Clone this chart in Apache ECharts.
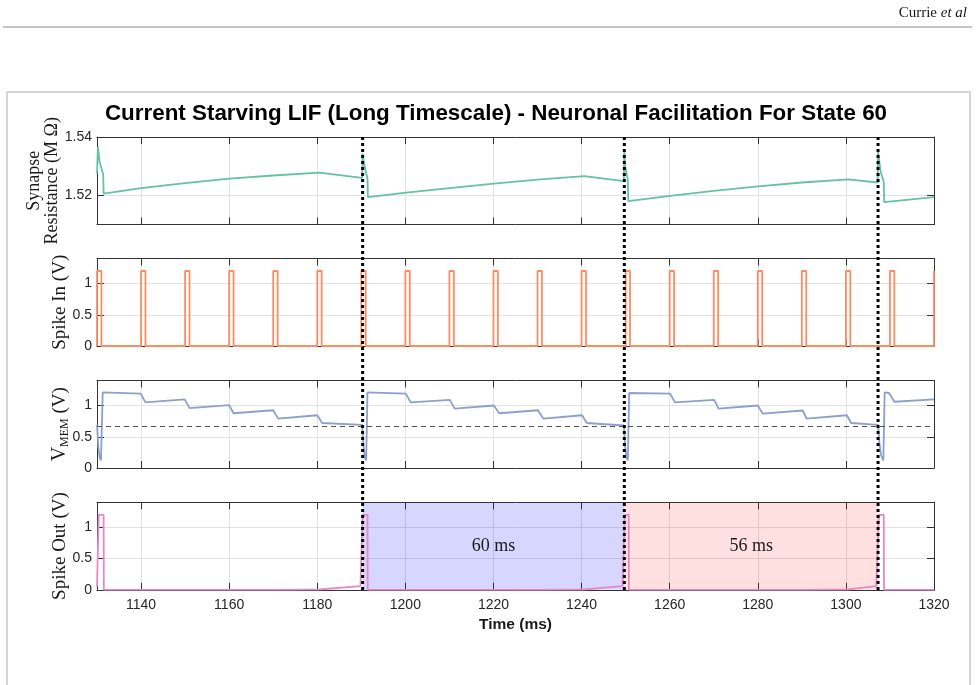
<!DOCTYPE html>
<html>
<head>
<meta charset="utf-8">
<script src="https://cdn.jsdelivr.net/npm/echarts@6/dist/echarts.min.js"></script>
<style>
  html, body { margin: 0; padding: 0; background: #fff; }
  #chart { width: 977px; height: 685px; }
</style>
</head>
<body>
<div id="chart"></div>
<script>
// time axis (ms)
const timeMin = 1130
const timeMax = 1320
const timeTicks = [1140, 1160, 1180, 1200, 1220, 1240, 1260, 1280, 1300, 1320]

// synapse resistance (M ohm) vs time
const resistance = [
  [1130.0, 1.5274], [1130.2, 1.5366], [1130.6, 1.5314], [1131.4, 1.5272], [1131.5, 1.5206],
  [1140, 1.5225], [1150, 1.5242], [1160, 1.5257], [1170, 1.5268], [1180.4, 1.5278],
  [1190.2, 1.5260], [1190.3, 1.5343], [1190.6, 1.5309], [1191.4, 1.5257], [1191.5, 1.5194],
  [1200.2, 1.5209], [1210, 1.5225], [1220.1, 1.5240], [1230, 1.5254], [1240.6, 1.5266],
  [1249.6, 1.5249], [1249.7, 1.5349], [1249.9, 1.5300], [1250.5, 1.5251], [1250.6, 1.5180],
  [1260.1, 1.5198], [1270, 1.5215], [1280.1, 1.5231], [1290, 1.5244], [1300.5, 1.5255],
  [1307.2, 1.5244], [1307.3, 1.5349], [1307.9, 1.5280], [1308.6, 1.5246], [1308.7, 1.5177],
  [1320, 1.5194]
]

// input spikes: start times of each pulse (ms), pulse width and height
const spikeInStarts = [1130, 1140, 1150, 1160, 1170, 1180, 1190, 1200, 1210, 1220,
  1230, 1240, 1250, 1260, 1270, 1280, 1290, 1300, 1310]
const spikeInWidth = 1
const spikeInLevel = 1.2

// membrane voltage (V)
const vMem = [
  [1130.0, 0.69], [1130.3, 0.34], [1130.6, 0.17], [1130.9, 0.12], [1131.3, 1.21],
  [1139.9, 1.19], [1141.0, 1.05], [1149.9, 1.097], [1151.0, 0.957], [1160.0, 1.005],
  [1161.0, 0.876], [1170.0, 0.924], [1171.1, 0.79], [1180.0, 0.844], [1181.1, 0.72],
  [1190.2, 0.69], [1190.5, 0.34], [1190.8, 0.17], [1191.1, 0.12], [1191.4, 1.21],
  [1200.1, 1.19], [1201.2, 1.05], [1210.1, 1.09], [1211.2, 0.95], [1220.1, 1.0],
  [1221.3, 0.876], [1230.1, 0.924], [1231.3, 0.79], [1240.1, 0.844], [1241.2, 0.72],
  [1249.6, 0.68], [1249.9, 0.34], [1250.2, 0.17], [1250.5, 0.12], [1250.8, 1.2],
  [1260.1, 1.19], [1261.2, 1.05], [1270.1, 1.09], [1271.1, 0.95], [1280.0, 1.0],
  [1281.1, 0.87], [1290.2, 0.92], [1291.1, 0.79], [1300.2, 0.844], [1301.2, 0.72],
  [1307.3, 0.69], [1307.6, 0.4], [1308.0, 0.2], [1308.5, 0.12], [1308.8, 1.21],
  [1309.8, 1.2], [1311.0, 1.06], [1320, 1.097]
]
const vThreshold = 0.67

// output spikes (V)
const spikeOut = [
  [1130.0, 0.05], [1130.3, 0.07], [1130.4, 1.2], [1131.5, 1.2], [1131.55, 0],
  [1171, 0], [1171.1, 0.003], [1180.4, 0.005], [1180.6, 0.03], [1189.8, 0.06], [1190.2, 0.08],
  [1190.3, 1.2], [1191.4, 1.2], [1191.45, 0],
  [1231, 0], [1231.1, 0.003], [1240.5, 0.005], [1240.7, 0.03], [1249.3, 0.06], [1249.7, 0.09],
  [1249.8, 1.2], [1250.7, 1.2], [1250.75, 0],
  [1291, 0], [1291.1, 0.003], [1300.4, 0.005], [1300.6, 0.03], [1306.9, 0.06], [1307.3, 0.08],
  [1307.5, 1.2], [1308.6, 1.2], [1308.65, 0],
  [1320, 0]
]

// inter-spike intervals
const dividerTimes = [1190.3, 1249.7, 1307.3]
const intervalLabels = ['60 ms', '56 ms']
const intervalColors = ['rgba(0, 0, 255, 0.16)', 'rgba(255, 0, 0, 0.12)']

const colors = ['#66c2a5', '#fc8d62', '#8da0cb', '#e78ac3']
const sans = 'Liberation Sans'
const serif = 'Liberation Serif'
const axisColor = '#333'

let chart = echarts.init(document.getElementById('chart'))

// pulse train for the input
let spikeIn = [[spikeInStarts[0], 0]]
spikeInStarts.forEach(function (s) {
  spikeIn.push([s, 0], [s, spikeInLevel], [s + spikeInWidth, spikeInLevel], [s + spikeInWidth, 0])
})
spikeIn.push([timeMax, 0], [timeMax, spikeInLevel])

let gridTops = [137, 258.5, 380.5, 502.3]
let grids = gridTops.map(function (t) {
  return {left: 97, right: 43, top: t, height: 87.5}
})
grids.push({left: 97, right: 43, top: 137, height: 453})

let xAxes = []
let yAxes = []
let yRanges = [[1.51, 1.54, [1.52, 1.54]], [0, 1.4, [0, 0.5, 1]], [0, 1.4, [0, 0.5, 1]], [0, 1.4, [0, 0.5, 1]]]
let yNames = [
  'Synapse\nResistance (M Ω)',
  'Spike In (V)',
  '{v|V}{s|MEM}{n| (V)}',
  'Spike Out (V)'
]
let yGaps = [36, 28, 28, 28]
let yNameSizes = [18, 19, 19, 19]

for (let i = 0; i < 4; i++) {
  let last = i === 3
  xAxes.push({
    gridIndex: i, type: 'value', min: timeMin, max: timeMax, position: 'bottom',
    axisLine: {show: true, onZero: false, lineStyle: {color: axisColor, width: 1}},
    axisTick: {show: true, inside: true, length: 7, customValues: timeTicks, lineStyle: {color: axisColor}},
    axisLabel: {
      show: last, customValues: timeTicks, margin: 8, fontFamily: sans, fontSize: 14, color: '#262626',
      formatter: function (v) { return String(v) }
    },
    splitLine: {show: true, lineStyle: {color: '#e2e2e2', width: 1}},
    name: last ? 'Time (ms)' : '', nameLocation: 'middle', nameGap: 27,
    nameTextStyle: {fontFamily: sans, fontWeight: 'bold', fontSize: 15.5, color: '#1a1a1a'}
  })
  xAxes.push({
    gridIndex: i, type: 'value', min: timeMin, max: timeMax, position: 'top',
    axisLine: {show: true, onZero: false, lineStyle: {color: axisColor, width: 1}},
    axisTick: {show: true, inside: true, length: 7, customValues: timeTicks, lineStyle: {color: axisColor}},
    axisLabel: {show: false},
    splitLine: {show: false}
  })
  let r = yRanges[i]
  let fs = yNameSizes[i]
  yAxes.push({
    gridIndex: i, type: 'value', min: r[0], max: r[1], position: 'left',
    axisLine: {show: true, onZero: false, lineStyle: {color: axisColor, width: 1}},
    axisTick: {show: true, inside: true, length: 7, customValues: r[2], lineStyle: {color: axisColor}},
    axisLabel: {
      customValues: r[2], margin: 5, fontFamily: sans, fontSize: 14, color: '#262626',
      formatter: i === 0 ? function (v) { return v.toFixed(2) } : function (v) { return String(v) }
    },
    splitLine: {show: true, lineStyle: {color: '#e2e2e2', width: 1}},
    name: yNames[i], nameLocation: 'middle', nameGap: yGaps[i], nameMoveOverlap: false,
    nameTextStyle: {
      fontFamily: serif, fontSize: fs, color: '#1a1a1a', lineHeight: 18,
      rich: {
        v: {fontFamily: serif, fontSize: fs + 1, color: '#1a1a1a'},
        s: {fontFamily: serif, fontSize: 12, color: '#1a1a1a', verticalAlign: 'bottom', padding: [0, 0, -2, 0]},
        n: {fontFamily: serif, fontSize: fs, color: '#1a1a1a'}
      }
    }
  })
  yAxes.push({
    gridIndex: i, type: 'value', min: r[0], max: r[1], position: 'right',
    axisLine: {show: true, onZero: false, lineStyle: {color: axisColor, width: 1}},
    axisTick: {show: true, inside: true, length: 7, customValues: r[2], lineStyle: {color: axisColor}},
    axisLabel: {show: false},
    splitLine: {show: false}
  })
}
// overlay for the dotted dividers
xAxes.push({gridIndex: 4, type: 'value', min: timeMin, max: timeMax, show: false})
yAxes.push({gridIndex: 4, type: 'value', min: 0, max: 1, show: false})

function lineSeries(idx, data, color) {
  return {
    type: 'line', xAxisIndex: idx * 2, yAxisIndex: idx * 2, data: data,
    symbol: 'none', showSymbol: false, silent: true, z: 3,
    lineStyle: {color: color, width: 1.8}
  }
}

let series = [
  lineSeries(0, resistance, colors[0]),
  lineSeries(1, spikeIn, colors[1]),
  lineSeries(2, vMem, colors[2]),
  lineSeries(3, spikeOut, colors[3])
]

series[2].markLine = {
  silent: true, symbol: 'none', label: {show: false},
  lineStyle: {color: '#555', width: 1, type: [5, 4]},
  data: [{yAxis: vThreshold}]
}

series[3].markArea = {
  silent: true,
  label: {show: true, position: 'inside', fontFamily: serif, fontSize: 18, color: '#1a1a1a'},
  data: intervalLabels.map(function (lab, k) {
    return [
      {name: lab, xAxis: dividerTimes[k], itemStyle: {color: intervalColors[k]}},
      {xAxis: dividerTimes[k + 1]}
    ]
  })
}

dividerTimes.forEach(function (t) {
  series.push({
    type: 'line', xAxisIndex: 8, yAxisIndex: 8, data: [[t, 0], [t, 1]],
    symbol: 'none', silent: true, z: 10,
    lineStyle: {color: '#000', width: 3, type: [3, 3]}
  })
})

chart.setOption({
  animation: false,
  backgroundColor: '#fff',
  grid: grids,
  xAxis: xAxes,
  yAxis: yAxes,
  series: series,
  graphic: [
    {type: 'line', shape: {x1: 3, y1: 27, x2: 972, y2: 27}, style: {stroke: '#8c8c8c', lineWidth: 1.2}, silent: true},
    {type: 'rect', shape: {x: 7, y: 92, width: 963, height: 620}, style: {fill: 'none', stroke: '#c8c8c8', lineWidth: 1.5}, silent: true},
    {
      type: 'text', x: 967, y: 13, silent: true,
      style: {
        text: '{n|Currie }{i|et al}', align: 'right', verticalAlign: 'middle',
        rich: {
          n: {fontFamily: serif, fontSize: 15, fill: '#1a1a1a'},
          i: {fontFamily: serif, fontSize: 15, fontStyle: 'italic', fill: '#1a1a1a'}
        }
      }
    },
    {
      type: 'text', x: 496, y: 114, silent: true,
      style: {
        text: 'Current Starving LIF (Long Timescale) - Neuronal Facilitation For State 60',
        align: 'center', verticalAlign: 'middle',
        fontFamily: sans, fontWeight: 'bold', fontSize: 22.4, fill: '#000'
      }
    }
  ]
})
</script>
</body>
</html>
